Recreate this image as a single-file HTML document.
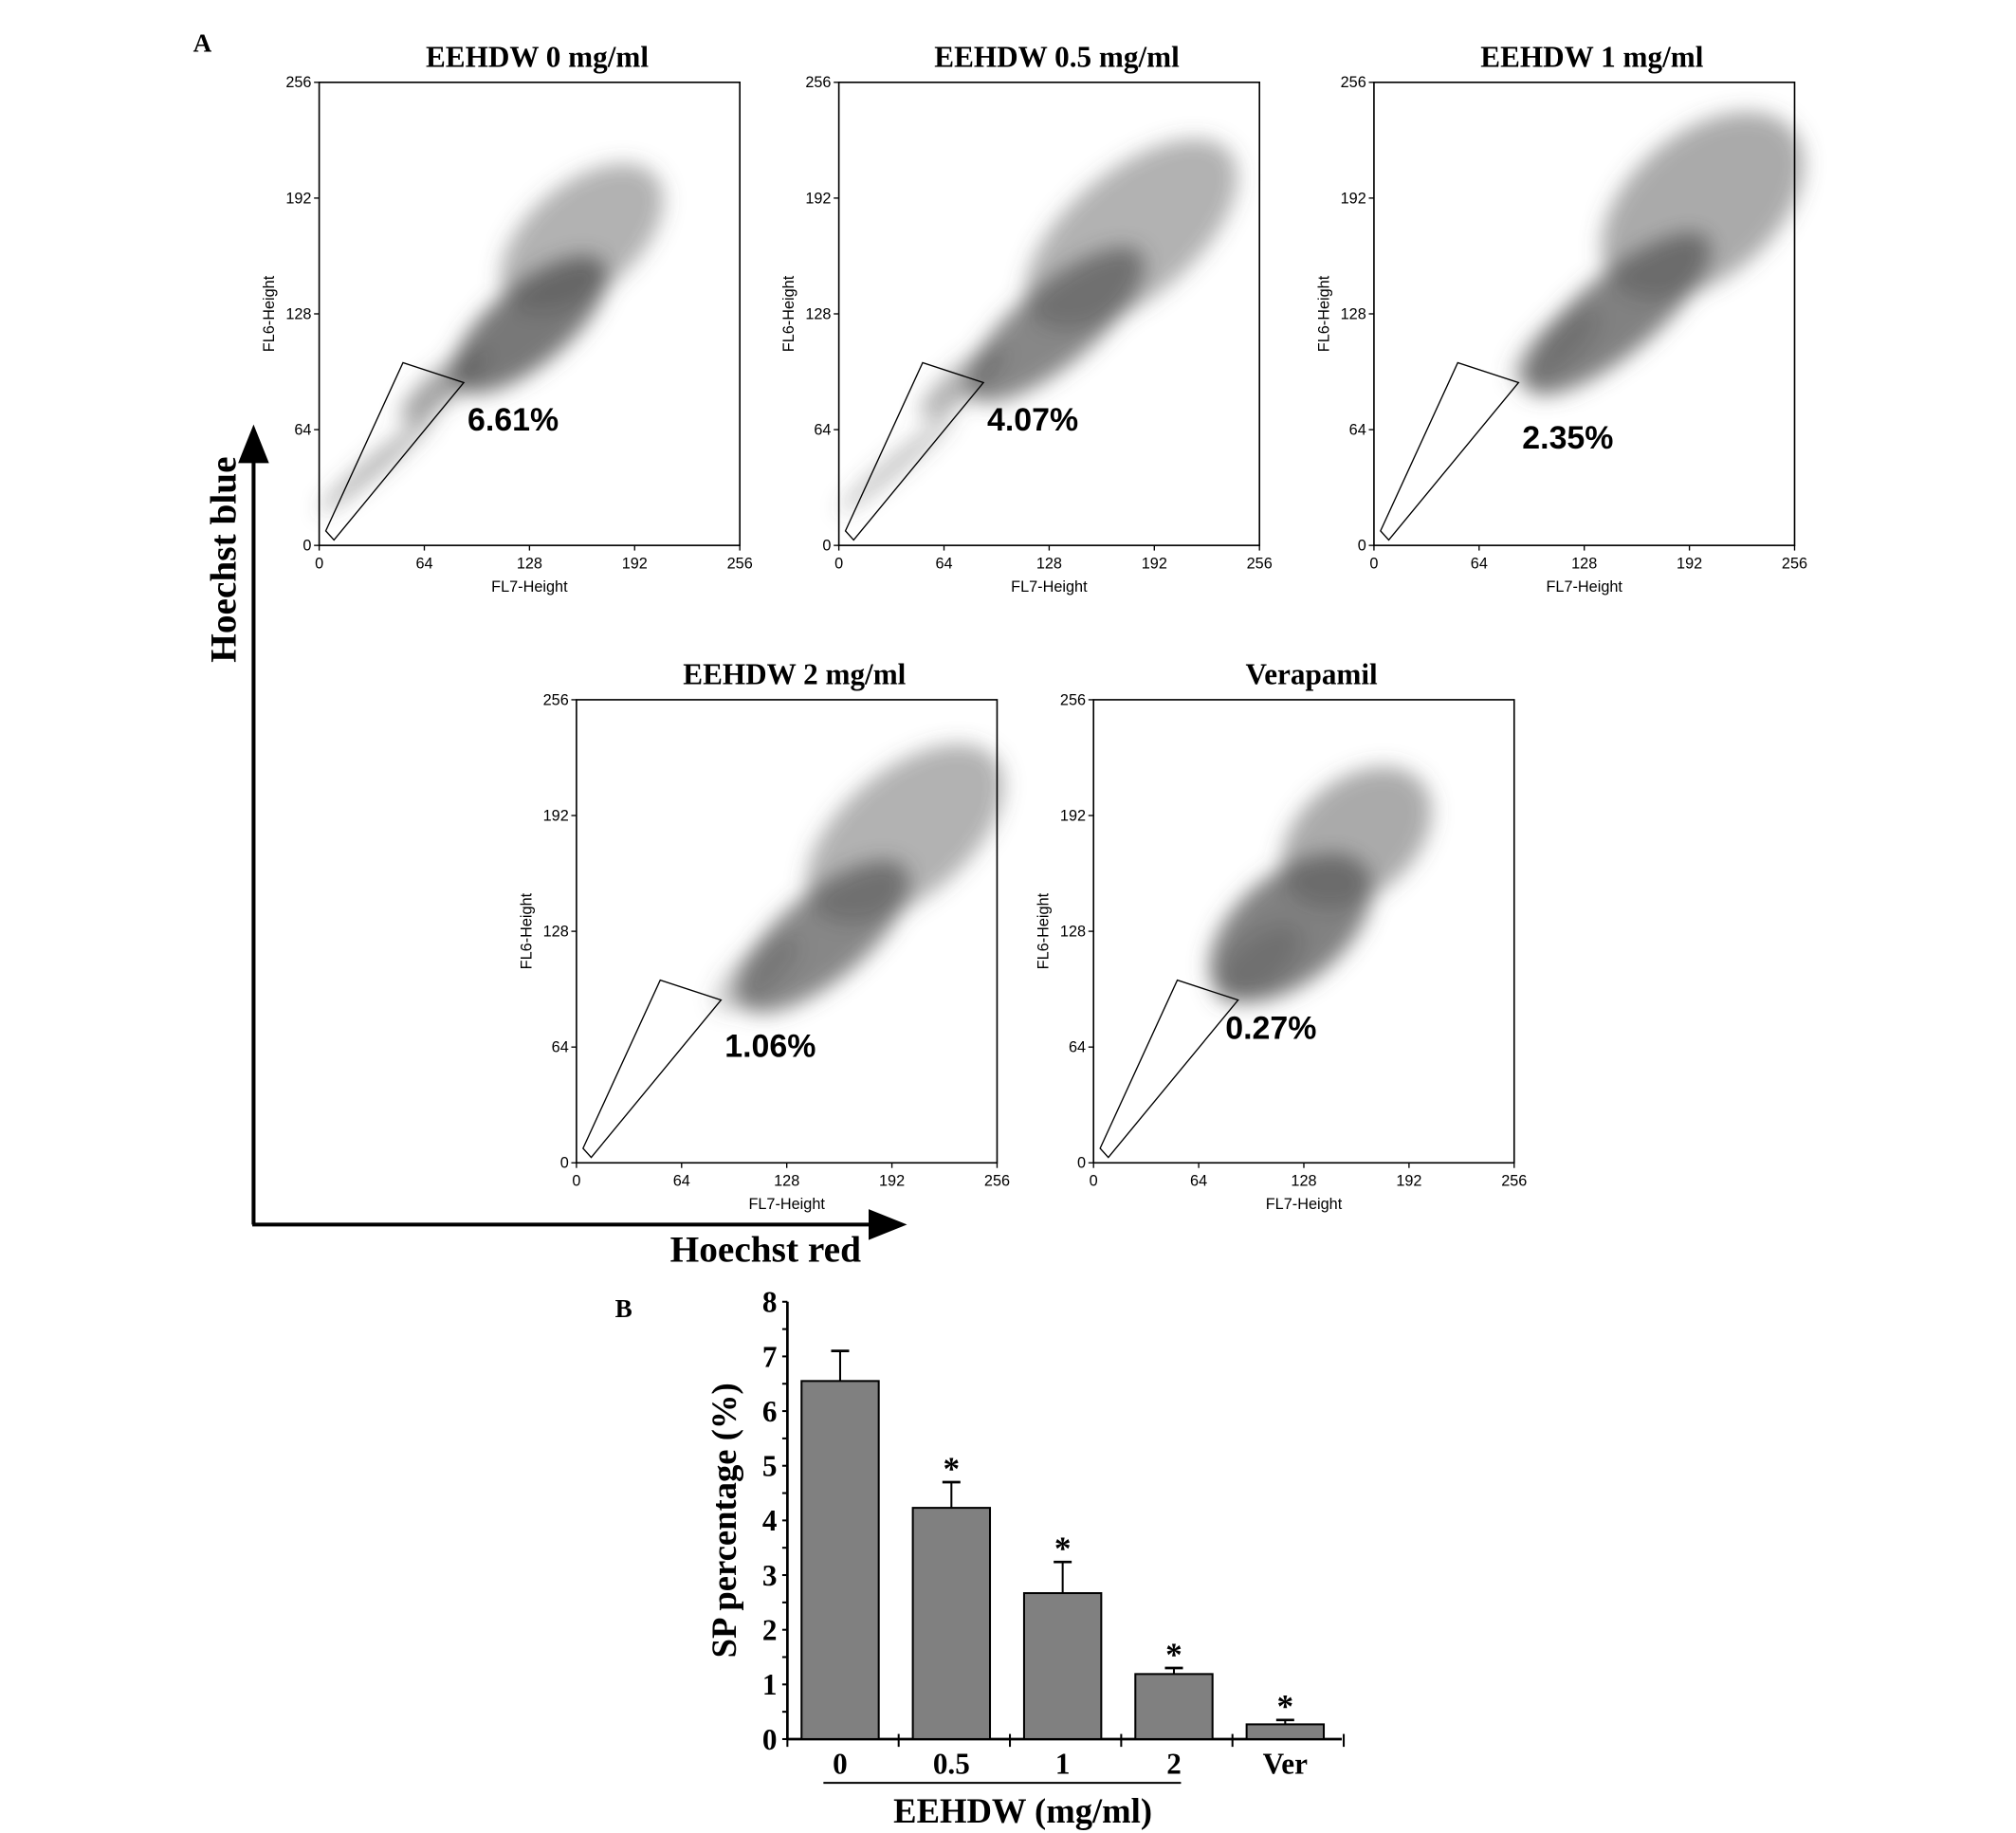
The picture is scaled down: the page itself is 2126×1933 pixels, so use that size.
<!DOCTYPE html>
<html><head><meta charset="utf-8"><style>
html,body{margin:0;padding:0;background:#fff}
svg{display:block}
.s{font-family:"Liberation Serif",serif;font-weight:bold}
.a{font-family:"Liberation Sans",sans-serif}
</style></head><body>
<svg id="fig" width="2126" height="1933" viewBox="0 0 1567 1425" xmlns="http://www.w3.org/2000/svg">
<defs>
<filter id="bl" x="-30%" y="-30%" width="160%" height="160%"><feGaussianBlur stdDeviation="8"/></filter>
<marker id="ah" markerWidth="10" markerHeight="10" refX="5" refY="5" orient="auto"><path d="M0,1 L10,5 L0,9 z" fill="#000"/></marker>
</defs>
<text class="s" x="150" y="40" font-size="20">A</text>
<text class="s" x="478" y="1024" font-size="20">B</text>
<line x1="197" y1="952" x2="197" y2="345" stroke="#000" stroke-width="3" marker-end="url(#ah)"/>
<line x1="196" y1="952" x2="690" y2="952" stroke="#000" stroke-width="3" marker-end="url(#ah)"/>
<text class="s" transform="translate(183,435) rotate(-90)" text-anchor="middle" font-size="29">Hoechst blue</text>
<text class="s" x="595" y="981" text-anchor="middle" font-size="29">Hoechst red</text>
<g id="panels"></g>
<g id="bar"></g>
</svg>
<script>
const panelTitles=["EEHDW 0 mg/ml","EEHDW 0.5 mg/ml","EEHDW 1 mg/ml","EEHDW 2 mg/ml","Verapamil"];
const panelPct=["6.61%","4.07%","2.35%","1.06%","0.27%"];
const axisTicks=[0,64,128,192,256];
const pctPos=[[118,70],[118,70],[118,60],[118,65],[108,75]];
// cloud centres (data units) and spread: [cx,cy,rx,ry,opacity]
const clouds=[
 [[128,122,45,22,0.8],[160,170,45,30,0.45],[75,88,25,9,0.55],[35,45,35,5,0.45]],
 [[132,122,52,22,0.7],[178,172,60,35,0.45],[75,90,25,9,0.45],[35,45,35,5,0.35]],
 [[148,128,55,22,0.75],[200,188,55,40,0.5],[110,110,25,12,0.35]],
 [[150,125,50,24,0.7],[200,182,55,35,0.45],[110,105,25,12,0.3]],
 [[120,130,45,30,0.75],[160,180,40,32,0.5],[100,110,25,15,0.35]]
];
const gate=[[4,8],[51,101],[88,90],[9,3]];
const NS="http://www.w3.org/2000/svg";
function mk(t,a,p){const e=document.createElementNS(NS,t);for(const k in a)e.setAttribute(k,a[k]);p.appendChild(e);return e;}
const panelBoxes=[[248,64],[652,64],[1068,64],[448,544],[850,544]];
const W=327,H=360;
const pg=document.getElementById('panels');
panelBoxes.forEach((b,i)=>{
 const g=mk('g',{},pg);
 
 
 const sx=v=>b[0]+v/256*W, sy=v=>b[1]+H-v/256*H;
 const cg=mk('g',{filter:'url(#bl)'},g);
 clouds[i].forEach((c,j)=>{
  const e=mk('ellipse',{cx:sx(c[0]),cy:sy(c[1]),rx:c[2]/256*W*1.3,ry:c[3]/256*H,fill:'#555','fill-opacity':c[4],transform:`rotate(-40 ${sx(c[0])} ${sy(c[1])})`},cg);
  
  
 });
 const r=mk('rect',{x:b[0],y:b[1],width:W,height:H,fill:'none',stroke:'#000','stroke-width':1.2},g);
 
 
 const gp=mk('polygon',{points:gate.map(p=>sx(p[0])+','+sy(p[1])).join(' '),fill:'none',stroke:'#000','stroke-width':1},g);
 
 
 axisTicks.forEach(t=>{
  mk('line',{x1:sx(t),y1:b[1]+H,x2:sx(t),y2:b[1]+H+4,stroke:'#000'},g);
  mk('line',{x1:b[0]-4,y1:sy(t),x2:b[0],y2:sy(t),stroke:'#000'},g);
  const tx=mk('text',{x:sx(t),y:b[1]+H+18,'text-anchor':'middle','font-size':12,class:'a'},g);tx.textContent=t;
  
  
  const ty=mk('text',{x:b[0]-6,y:sy(t)+4,'text-anchor':'end','font-size':12,class:'a'},g);ty.textContent=t;
  
  
 });
 const xl=mk('text',{x:b[0]+W/2,y:b[1]+H+36,'text-anchor':'middle','font-size':12,class:'a'},g);xl.textContent='FL7-Height';
 
 
 const yl=mk('text',{transform:`translate(${b[0]-35},${b[1]+H/2}) rotate(-90)`,'text-anchor':'middle','font-size':12,class:'a'},g);yl.textContent='FL6-Height';
 
 
 const tt=mk('text',{x:b[0]+W/2+6,y:b[1]-12,'text-anchor':'middle','font-size':23,class:'s'},g);tt.textContent=panelTitles[i];
 
 
 const pc=mk('text',{x:sx(pctPos[i][0]),y:sy(pctPos[i][1])+9,'text-anchor':'middle','font-size':25,'font-weight':'bold',class:'a'},g);pc.textContent=panelPct[i];
 
 
});
// Bar chart
const barCats=["0","0.5","1","2","Ver"];
const barVals=[6.55,4.23,2.67,1.19,0.27];
const barErr=[0.55,0.47,0.57,0.11,0.08];
const barSig=[false,true,true,true,true];
const yTicks=[0,1,2,3,4,5,6,7,8];
const bg=document.getElementById('bar');
const X0=612,Y0=1352,PU=42.5,STEP=86.5,BW=60;
const by=v=>Y0-v*PU, bx=i=>X0+41+i*STEP;
mk('line',{x1:X0,y1:Y0,x2:X0,y2:by(8),stroke:'#000','stroke-width':2},bg);
mk('line',{x1:X0,y1:Y0,x2:1043,y2:Y0,stroke:'#000','stroke-width':2},bg);
for(let k=0;k<=16;k++){mk('line',{x1:X0-4,y1:by(k/2),x2:X0,y2:by(k/2),stroke:'#000','stroke-width':1.5},bg);}
for(let k=0;k<=5;k++){mk('line',{x1:X0+k*STEP,y1:Y0-4,x2:X0+k*STEP,y2:Y0+6,stroke:'#000','stroke-width':1.5},bg);}
yTicks.forEach(t=>{const e=mk('text',{x:X0-8,y:by(t)+8,'text-anchor':'end','font-size':23,class:'s'},bg);e.textContent=t;
 
 });
barCats.forEach((c,i)=>{
 const cx=bx(i);
 const r=mk('rect',{x:cx-BW/2,y:by(barVals[i]),width:BW,height:barVals[i]*PU,fill:'#808080',stroke:'#000','stroke-width':1.5},bg);
 
 
 const te=by(barVals[i]+barErr[i]);
 mk('line',{x1:cx,y1:by(barVals[i]),x2:cx,y2:te,stroke:'#000','stroke-width':1.5},bg);
 mk('line',{x1:cx-7,y1:te,x2:cx+7,y2:te,stroke:'#000','stroke-width':2},bg);
 if(barSig[i]){const s=mk('text',{x:cx,y:te-2,'text-anchor':'middle','font-size':26,class:'s'},bg);s.textContent='*';
  
  }
 const l=mk('text',{x:cx,y:Y0+27,'text-anchor':'middle','font-size':23,class:'s'},bg);l.textContent=c;
 
 
});
mk('line',{x1:640,y1:1386,x2:918,y2:1386,stroke:'#000','stroke-width':1.5},bg);
const xt=mk('text',{x:795,y:1417,'text-anchor':'middle','font-size':27,class:'s'},bg);xt.textContent='EEHDW (mg/ml)';


const yt=mk('text',{transform:'translate(572,1182) rotate(-90)','text-anchor':'middle','font-size':27,class:'s'},bg);yt.textContent='SP percentage (%)';


</script>
</body></html>
